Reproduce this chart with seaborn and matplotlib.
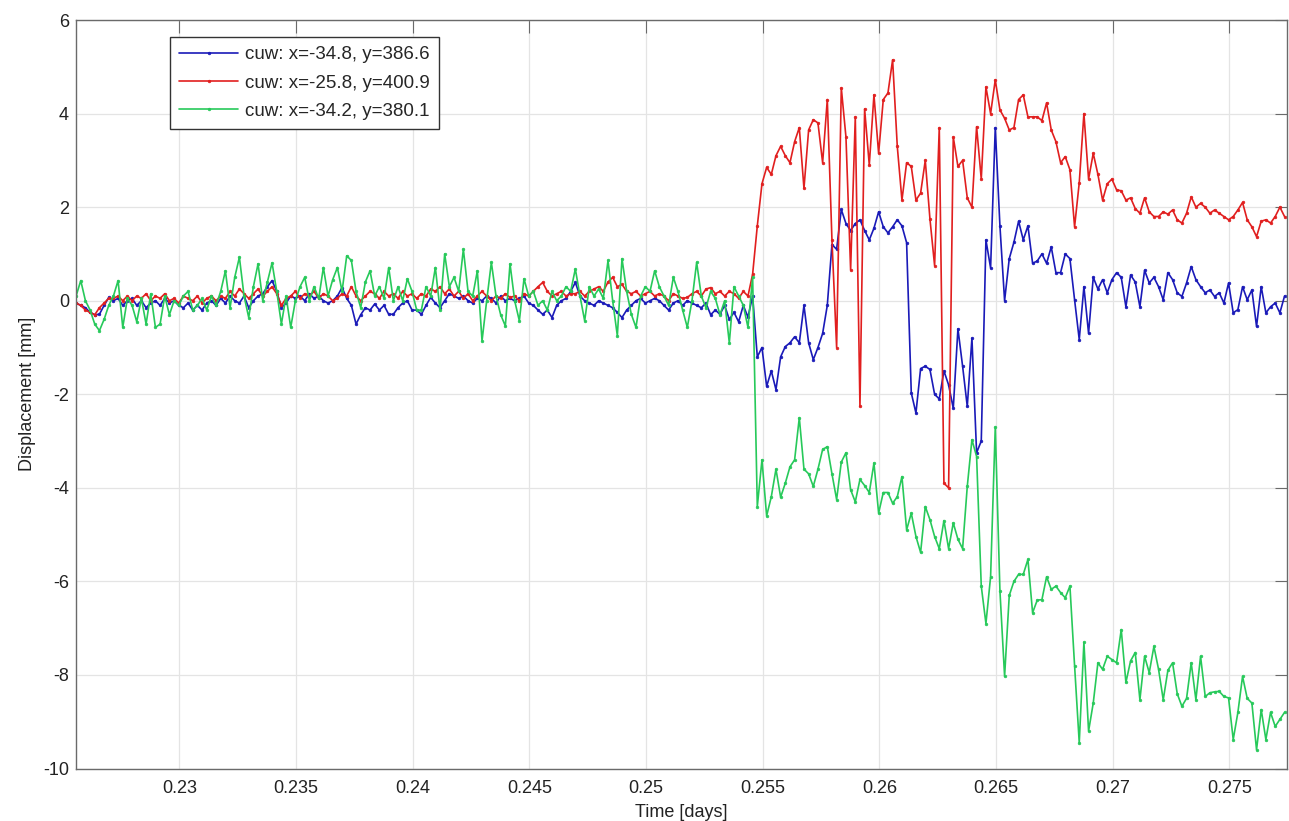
import numpy as np
import pandas as pd
import matplotlib
matplotlib.use("Agg")
import matplotlib.pyplot as plt
import seaborn as sns
from matplotlib.ticker import FixedLocator, FixedFormatter

# sampling clock of the logger (days)
T_START = 0.22557
T_STEP = 0.0002

# ---- blue series: cuw x=-34.8, y=386.6 ----
blue_pre = [
    -0.05, -0.1, -0.15, -0.25, -0.3, -0.29, -0.1, 0.07, 0.0, 0.05,
    -0.1, 0.0, 0.05, -0.1, 0.0, -0.15, -0.05, 0.0, -0.1, 0.05,
    -0.05, 0.0, -0.1, -0.15, -0.05, -0.2, -0.1, -0.2, -0.05, 0.0,
    -0.1, 0.05, -0.05, 0.1, 0.0, -0.05, 0.1, -0.15, 0.0, 0.1,
    0.15, 0.3, 0.43, 0.2, -0.15, -0.05, 0.1, 0.05, 0.1, 0.0,
    0.15, 0.05, 0.1, 0.0, -0.05, 0.0, 0.1, 0.28, 0.05, -0.1,
    -0.5, -0.3, -0.15, -0.2, -0.07, -0.2, -0.1, -0.29, -0.29, -0.15,
    -0.05, 0.0, -0.2, -0.2, -0.29, -0.1, 0.07, -0.05, -0.15, 0.0,
    0.15, 0.1, 0.05, 0.1, 0.0, -0.05, 0.05, 0.0, 0.1, 0.05,
    -0.05, 0.1, 0.0, 0.05, 0.0, 0.05, 0.1, -0.05, -0.1, -0.2,
    -0.29, -0.2, -0.36, -0.1, 0.0, 0.05, 0.2, 0.39, 0.1, 0.0,
    -0.05, -0.1, 0.0, -0.05, -0.1, -0.15, -0.25, -0.36, -0.2, -0.1,
    0.0, 0.05, -0.05, 0.0, 0.05, 0.0, -0.1, -0.2, -0.05, 0.0,
    -0.1, 0.0, -0.05, -0.1, -0.15, -0.05, -0.3, -0.2, -0.29, -0.1,
    -0.4, -0.25, -0.45, -0.1, -0.35, 0.1,
]
blue_post = [
    -1.2, -1.0, -1.83, -1.5, -1.9, -1.2, -0.98, -0.9, -0.77, -0.9,
    -0.1, -0.9, -1.26, -1.0, -0.7, -0.1, 1.2, 1.1, 1.95, 1.65,
    1.5, 1.65, 1.73, 1.5, 1.3, 1.55, 1.9, 1.58, 1.45, 1.58,
    1.73, 1.6, 1.24, -1.97, -2.4, -1.45, -1.4, -1.47, -2.0, -2.1,
    -1.5, -1.8, -2.3, -0.6, -1.4, -2.26, -0.8, -3.25, -3.0, 1.3,
    0.7, 3.7, 1.6, 0.0, 0.9, 1.25, 1.7, 1.3, 1.6, 0.8,
    0.85, 1.0, 0.8, 1.15, 0.6, 0.6, 1.0, 0.9, 0.02, -0.83,
    0.3, -0.7, 0.5, 0.25, 0.45, 0.17, 0.45, 0.6, 0.5, -0.13,
    0.55, 0.4, -0.13, 0.65, 0.38, 0.5, 0.3, 0.02, 0.6, 0.45,
    0.17, 0.09, 0.38, 0.73, 0.45, 0.3, 0.17, 0.23, 0.09, 0.17,
    -0.05, 0.38, -0.26, -0.19, 0.3, 0.02, 0.23, -0.55, 0.3, -0.26,
    -0.13, -0.05, -0.26, 0.1,
]

# ---- red series: cuw x=-25.8, y=400.9 ----
red_pre = [
    -0.05, -0.1, -0.2, -0.25, -0.3, -0.15, -0.05, 0.05, 0.05, 0.1,
    0.0, 0.1, 0.0, 0.1, 0.05, 0.15, 0.0, 0.1, 0.05, 0.15,
    0.0, 0.05, -0.05, 0.1, 0.05, 0.0, 0.1, -0.05, 0.05, 0.1,
    0.0, 0.1, 0.05, 0.2, 0.1, 0.25, 0.15, 0.05, 0.15, 0.25,
    0.1, 0.2, 0.3, 0.15, -0.1, 0.05, 0.1, 0.2, 0.05, 0.15,
    0.1, 0.2, 0.05, 0.15, 0.1, 0.0, 0.05, 0.15, 0.1, 0.3,
    0.1, 0.0, 0.1, 0.2, 0.15, 0.05, 0.2, 0.1, 0.15, 0.05,
    0.2, 0.1, 0.15, 0.05, 0.15, 0.1, 0.25, 0.2, 0.3, 0.15,
    0.25, 0.1, 0.2, 0.05, 0.15, 0.0, 0.1, 0.2, 0.1, 0.0,
    0.1, 0.05, 0.15, 0.07, 0.1, 0.0, 0.15, 0.1, 0.2, 0.3,
    0.39, 0.2, 0.1, 0.15, 0.2, 0.1, 0.15, 0.15, 0.2, 0.1,
    0.2, 0.25, 0.3, 0.2, 0.4, 0.5, 0.3, 0.35, 0.2, 0.15,
    0.2, 0.1, 0.15, 0.2, 0.1, 0.15, 0.1, 0.0, 0.15, 0.1,
    0.05, 0.07, 0.15, 0.2, 0.1, 0.25, 0.28, 0.15, 0.2, 0.1,
    0.2, 0.15, 0.05, 0.2, 0.1, 0.57,
]
red_post = [
    1.6, 2.5, 2.85, 2.7, 3.1, 3.3, 3.1, 2.95, 3.4, 3.7,
    2.4, 3.65, 3.87, 3.8, 2.95, 4.3, 1.3, -1.0, 4.55, 3.5,
    0.66, 3.93, -2.26, 4.1, 2.9, 4.4, 3.15, 4.3, 4.44, 5.15,
    3.3, 2.15, 2.95, 2.87, 2.15, 2.3, 3.0, 1.75, 0.75, 3.7,
    -3.9, -4.0, 3.5, 2.87, 3.0, 2.2, 2.0, 3.72, 2.6, 4.57,
    4.0, 4.72, 4.08, 3.9, 3.65, 3.7, 4.3, 4.4, 3.93, 3.93,
    3.93, 3.85, 4.23, 3.65, 3.4, 2.95, 3.08, 2.8, 1.58, 2.52,
    4.0, 2.6, 3.15, 2.7, 2.15, 2.5, 2.6, 2.37, 2.35, 2.15,
    2.2, 1.97, 1.87, 2.2, 1.9, 1.8, 1.8, 1.9, 1.85, 1.94,
    1.73, 1.66, 1.87, 2.22, 2.0, 2.08, 2.0, 1.87, 1.94, 1.87,
    1.8, 1.73, 1.8, 1.94, 2.1, 1.73, 1.58, 1.37, 1.7, 1.73,
    1.66, 1.8, 2.0, 1.8,
]

# ---- green series: cuw x=-34.2, y=380.1 ----
green_pre = [
    0.1, 0.43, 0.0, -0.2, -0.5, -0.64, -0.4, -0.1, 0.1, 0.43,
    -0.57, 0.05, -0.1, -0.45, 0.05, -0.5, 0.15, -0.57, -0.5, 0.1,
    -0.3, 0.0, -0.1, 0.1, 0.2, -0.2, -0.1, 0.05, -0.2, 0.1,
    -0.1, 0.2, 0.64, -0.15, 0.5, 0.93, 0.1, -0.36, 0.3, 0.79,
    0.0, 0.4, 0.81, 0.2, -0.5, 0.1, -0.57, 0.0, 0.3, 0.5,
    0.0, 0.3, 0.05, 0.71, 0.1, 0.45, 0.71, 0.2, 0.96, 0.86,
    0.2, -0.15, 0.4, 0.64, 0.1, 0.3, 0.05, 0.71, 0.0, 0.3,
    0.0, 0.47, 0.2, -0.2, -0.2, 0.3, 0.1, 0.71, -0.2, 1.0,
    0.3, 0.5, 0.2, 1.1, 0.2, 0.1, 0.64, -0.86, 0.0, 0.82,
    0.1, -0.3, -0.54, 0.79, 0.0, -0.43, 0.47, 0.1, 0.2, -0.1,
    0.0, -0.2, 0.2, 0.0, 0.1, 0.3, 0.2, 0.68, 0.1, -0.43,
    0.3, 0.1, 0.25, 0.05, 0.86, 0.0, -0.75, 0.9, 0.2, -0.29,
    -0.57, 0.1, 0.3, 0.2, 0.64, 0.3, 0.1, -0.1, 0.5, 0.2,
    -0.2, -0.57, 0.0, 0.82, 0.1, -0.15, 0.2, 0.05, -0.3, 0.0,
    -0.9, 0.3, 0.1, -0.1, -0.57, 0.5,
]
green_post = [
    -4.4, -3.4, -4.6, -4.19, -3.6, -4.2, -3.9, -3.55, -3.4, -2.5,
    -3.6, -3.7, -3.97, -3.6, -3.18, -3.12, -3.7, -4.25, -3.45, -3.25,
    -4.04, -4.3, -3.82, -3.95, -4.1, -3.47, -4.54, -4.1, -4.1, -4.33,
    -4.19, -3.76, -4.9, -4.54, -5.04, -5.38, -4.4, -4.68, -5.04, -5.3,
    -4.7, -5.3, -4.75, -5.1, -5.3, -3.97, -2.97, -3.33, -6.1, -6.9,
    -5.9, -2.7, -6.2, -8.03, -6.3, -6.0, -5.85, -5.85, -5.53, -6.67,
    -6.4, -6.39, -5.9, -6.17, -6.1, -6.24, -6.35, -6.1, -7.8, -9.45,
    -7.3, -9.2, -8.6, -7.74, -7.88, -7.6, -7.67, -7.74, -7.03, -8.16,
    -7.7, -7.52, -8.53, -7.6, -7.95, -7.39, -7.88, -8.53, -7.9, -7.74,
    -8.4, -8.67, -8.5, -7.74, -8.53, -7.6, -8.46, -8.38, -8.36, -8.35,
    -8.46, -8.49, -9.38, -8.8, -8.03, -8.5, -8.6, -9.6, -8.74, -9.38,
    -8.8, -9.1, -8.95, -8.8,
]

series_labels = ["cuw: x=-34.8, y=386.6", "cuw: x=-25.8, y=400.9", "cuw: x=-34.2, y=380.1"]
series_colors = ["#1a1ab8", "#e11f1f", "#27c95a"]

x_ticks = [0.23, 0.235, 0.24, 0.245, 0.25, 0.255, 0.26, 0.265, 0.27, 0.275]
x_tick_labels = ["0.23", "0.235", "0.24", "0.245", "0.25", "0.255", "0.26", "0.265", "0.27", "0.275"]
y_ticks = [-10, -8, -6, -4, -2, 0, 2, 4, 6]
y_tick_labels = ["-10", "-8", "-6", "-4", "-2", "0", "2", "4", "6"]

disp_blue = blue_pre + blue_post
disp_red = red_pre + red_post
disp_green = green_pre + green_post
time_days = T_START + T_STEP * np.arange(len(disp_blue))

frames = []
for lab, vals in zip(series_labels, [disp_blue, disp_red, disp_green]):
    frames.append(pd.DataFrame({"time": time_days, "disp": vals, "sensor": lab}))
df = pd.concat(frames, ignore_index=True)

sns.set_style("white")
plt.rcParams["font.family"] = ["Liberation Sans", "DejaVu Sans"]

fig = plt.figure(figsize=(12.89, 8.21), dpi=100)
ax = fig.add_axes([0.05896, 0.0639, 0.9395, 0.9117])

for lab, col in zip(series_labels, series_colors):
    sub = df[df["sensor"] == lab]
    sns.lineplot(data=sub, x="time", y="disp", ax=ax, color=col, linewidth=1.2,
                 marker=".", markersize=4, markeredgecolor=col, markerfacecolor=col,
                 markeredgewidth=0.4, label=lab, estimator=None, sort=False)

ax.set_xlim(0.225566, 0.277476)
ax.set_ylim(-10, 6)
ax.xaxis.set_major_locator(FixedLocator(x_ticks))
ax.xaxis.set_major_formatter(FixedFormatter(x_tick_labels))
ax.yaxis.set_major_locator(FixedLocator(y_ticks))
ax.yaxis.set_major_formatter(FixedFormatter(y_tick_labels))

ax.grid(True, color="#e4e4e4", linewidth=0.9, linestyle="-")
ax.set_axisbelow(True)
for sp in ax.spines.values():
    sp.set_visible(True)
    sp.set_color("#6a6a6a")
    sp.set_linewidth(1.0)
ax.tick_params(axis="both", which="major", direction="in", length=9, width=0.8,
               color="#6a6a6a", labelsize=13, labelcolor="#222222",
               top=True, right=True)
ax.tick_params(axis="x", pad=8.5)
ax.tick_params(axis="y", pad=5)

ax.set_xlabel("Time [days]", fontsize=13, color="#222222", labelpad=4.5)
ax.set_ylabel("Displacement [mm]", fontsize=13, color="#222222", labelpad=5)

leg = ax.legend(loc="upper left", bbox_to_anchor=(0.0776, 0.977), borderaxespad=0,
                frameon=True, fancybox=False, edgecolor="#333333", fontsize=13.5,
                handlelength=3.15, labelspacing=0.59, borderpad=0.48,
                handletextpad=0.37, framealpha=1.0)
leg.get_frame().set_linewidth(1.0)

fig.savefig("out.png", dpi=100)
